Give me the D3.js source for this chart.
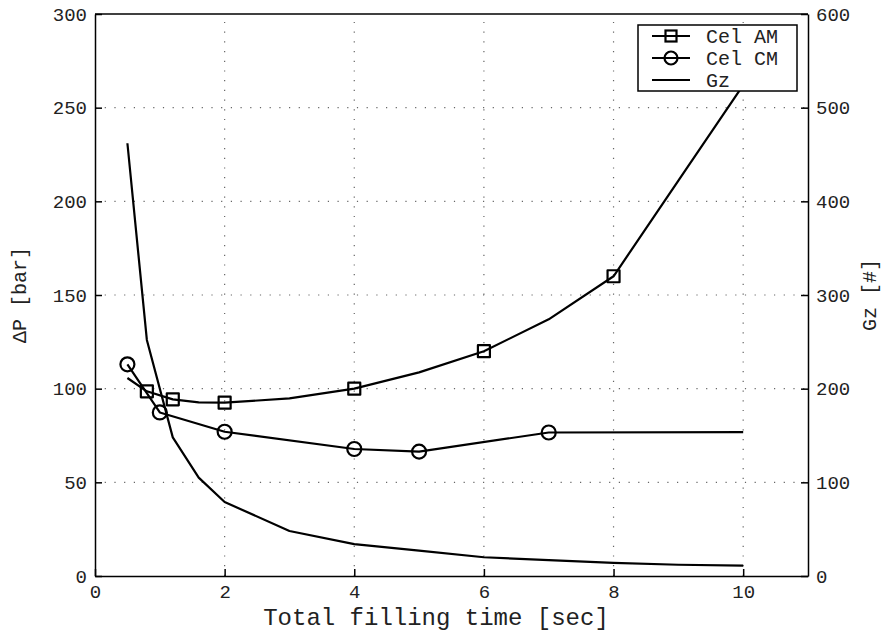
<!DOCTYPE html>
<html>
<head>
<meta charset="utf-8">
<script src="https://cdn.jsdelivr.net/npm/d3@7"></script>
<style>
  body { margin: 0; background: #fff; }
  svg text { font-family: "Liberation Mono", "Courier New", monospace; fill: #222; }
</style>
</head>
<body>
<svg id="chart"></svg>
<script>
// filling time [sec] for each series
var timeAM = [0.5, 0.8, 1.2, 1.6, 2, 3, 4, 5, 6, 7, 8, 9, 10];
var dpAM   = [105.7, 98.6, 94.3, 92.7, 92.5, 94.8, 100, 108.7, 120, 137, 160, 211, 262];
var markAM = [0.8, 1.2, 2, 4, 6, 8];

var timeCM = [0.5, 1, 2, 4, 5, 7, 10];
var dpCM   = [113, 87.3, 77, 67.8, 66.4, 76.6, 76.8];
var markCM = [0.5, 1, 2, 4, 5, 7];

var timeGz = [0.5, 0.8, 1.2, 1.6, 2, 3, 4, 5, 6, 7, 8, 9, 10];
var gzVals = [462, 252, 148, 105, 79, 48, 34, 27, 20, 17, 14, 12, 11];

var xTicks  = [0, 2, 4, 6, 8, 10];
var yTicks  = [0, 50, 100, 150, 200, 250, 300];
var y2Ticks = [0, 100, 200, 300, 400, 500, 600];
var legendNames = ["Cel AM", "Cel CM", "Gz"];

var svgWidth = 885, svgHeight = 636;
var margin = { top: 14, right: 77, bottom: 60, left: 95 };
var plotL = margin.left, plotR = svgWidth - margin.right;
var plotT = margin.top, plotB = svgHeight - margin.bottom;

var svg = d3.select("#chart")
  .attr("width", svgWidth)
  .attr("height", svgHeight);

var x  = d3.scaleLinear().domain([0, 11]).range([plotL, plotR]);
var y  = d3.scaleLinear().domain([0, 300]).range([plotB, plotT]);
var y2 = d3.scaleLinear().domain([0, 600]).range([plotB, plotT]);

// dotted grid
var grid = svg.append("g")
  .attr("stroke", "#666")
  .attr("stroke-width", 1.2)
  .attr("stroke-dasharray", "1.2,8.5");
grid.selectAll(".gx")
  .data(xTicks.filter(function(d) { return d > 0; }))
  .enter().append("line")
  .attr("x1", function(d) { return x(d); })
  .attr("x2", function(d) { return x(d); })
  .attr("y1", plotB)
  .attr("y2", plotT);
grid.selectAll(".gy")
  .data(yTicks.filter(function(d) { return d > 0 && d < 300; }))
  .enter().append("line")
  .attr("x1", plotL)
  .attr("x2", plotR)
  .attr("y1", function(d) { return y(d); })
  .attr("y2", function(d) { return y(d); });

// axes (ticks point inward)
function styleAxis(g) {
  g.selectAll("path, line").attr("stroke", "#000").attr("stroke-width", 1.5);
  g.selectAll("text").attr("font-size", 19).attr("fill", "#333")
    .style("font-family", "'Liberation Mono', monospace");
}
svg.append("g")
  .attr("transform", "translate(0," + plotB + ")")
  .call(d3.axisBottom(x).tickValues(xTicks).tickSize(-7).tickSizeOuter(0).tickPadding(9))
  .call(styleAxis);
svg.append("g")
  .attr("transform", "translate(" + plotL + ",0)")
  .call(d3.axisLeft(y).tickValues(yTicks).tickSize(-7).tickSizeOuter(0).tickPadding(8))
  .call(styleAxis);
svg.append("g")
  .attr("transform", "translate(" + plotR + ",0)")
  .call(d3.axisRight(y2).tickValues(y2Ticks).tickSize(-7).tickSizeOuter(0).tickPadding(8))
  .call(styleAxis);
svg.append("line")
  .attr("x1", plotL).attr("x2", plotR)
  .attr("y1", plotT).attr("y2", plotT)
  .attr("stroke", "#000").attr("stroke-width", 1.5);

// series
var lineL = d3.line()
  .x(function(d) { return x(d[0]); })
  .y(function(d) { return y(d[1]); });
var lineR = d3.line()
  .x(function(d) { return x(d[0]); })
  .y(function(d) { return y2(d[1]); });

var series = svg.append("g")
  .attr("fill", "none")
  .attr("stroke", "#000")
  .attr("stroke-width", 2.2)
  .attr("stroke-linejoin", "round");
series.append("path").attr("d", lineL(d3.zip(timeAM, dpAM)));
series.append("path").attr("d", lineL(d3.zip(timeCM, dpCM)));
series.append("path").attr("d", lineR(d3.zip(timeGz, gzVals)));

var sq = 12, rc = 7;
series.selectAll(".sq")
  .data(d3.zip(timeAM, dpAM).filter(function(d) { return markAM.indexOf(d[0]) >= 0; }))
  .enter().append("rect")
  .attr("x", function(d) { return x(d[0]) - sq / 2; })
  .attr("y", function(d) { return y(d[1]) - sq / 2; })
  .attr("width", sq).attr("height", sq);
series.selectAll(".ci")
  .data(d3.zip(timeCM, dpCM).filter(function(d) { return markCM.indexOf(d[0]) >= 0; }))
  .enter().append("circle")
  .attr("cx", function(d) { return x(d[0]); })
  .attr("cy", function(d) { return y(d[1]); })
  .attr("r", rc);

// legend
var lg = svg.append("g").attr("transform", "translate(638,25)");
lg.append("rect")
  .attr("width", 159).attr("height", 66)
  .attr("fill", "#fff").attr("stroke", "#000").attr("stroke-width", 1.5);
legendNames.forEach(function(name, i) {
  var ly = 11 + i * 22;
  lg.append("line")
    .attr("x1", 14).attr("x2", 52).attr("y1", ly).attr("y2", ly)
    .attr("stroke", "#000").attr("stroke-width", 2.2);
  if (i === 0) {
    lg.append("rect").attr("x", 33 - 5.5).attr("y", ly - 5.5)
      .attr("width", 11).attr("height", 11)
      .attr("fill", "none").attr("stroke", "#000").attr("stroke-width", 2.2);
  } else if (i === 1) {
    lg.append("circle").attr("cx", 33).attr("cy", ly).attr("r", 6.5)
      .attr("fill", "none").attr("stroke", "#000").attr("stroke-width", 2.2);
  }
  lg.append("text")
    .attr("x", 68).attr("y", ly)
    .attr("dy", "0.35em")
    .attr("font-size", 20)
    .text(name);
});

// axis titles
svg.append("text")
  .attr("x", 436)
  .attr("y", 625)
  .attr("text-anchor", "middle")
  .attr("font-size", 24)
  .text("Total filling time [sec]");
svg.append("text")
  .attr("transform", "translate(26," + ((plotT + plotB) / 2) + ") rotate(-90)")
  .attr("text-anchor", "middle")
  .attr("font-size", 20)
  .text("\u0394P [bar]");
svg.append("text")
  .attr("transform", "translate(876," + ((plotT + plotB) / 2) + ") rotate(-90)")
  .attr("text-anchor", "middle")
  .attr("font-size", 20)
  .text("Gz [#]");
</script>
</body>
</html>
